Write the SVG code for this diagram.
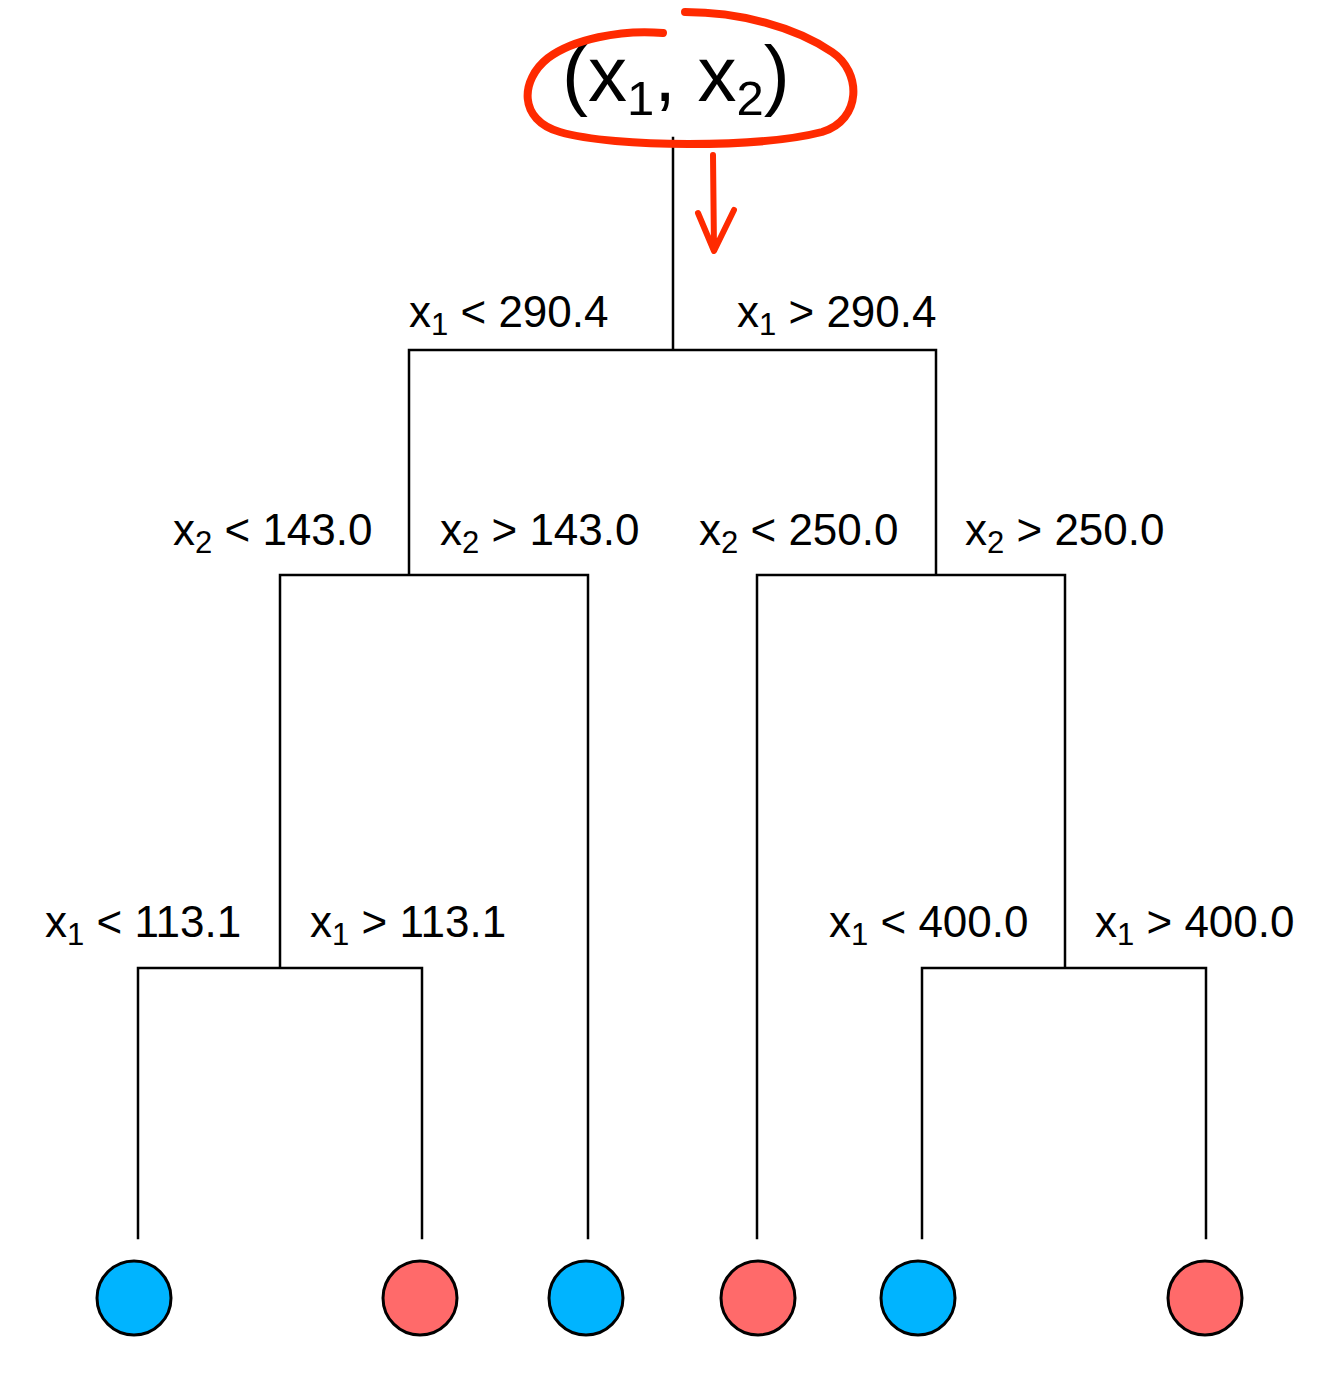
<svg xmlns="http://www.w3.org/2000/svg" width="1343" height="1381" viewBox="0 0 1343 1381">
<style>
.ln{stroke:#000;stroke-width:2.5;fill:none;stroke-linecap:square}
.lbl{font-family:"Liberation Sans",Arial,sans-serif;font-size:44px;fill:#000}
.sub{font-size:31px}
.blue{fill:#00b4ff;stroke:#000;stroke-width:3}
.red{fill:#ff6a6a;stroke:#000;stroke-width:3}
.mark{stroke:#ff2a00;fill:none;stroke-linecap:round;stroke-linejoin:round}
</style>
<rect width="1343" height="1381" fill="#fff"/>
<g id="connectors">
<path class="ln" d="M673,138 V350 M409,350 H936 M409,350 V575 M936,350 V575 M280,575 H409 M409,575 H588 M757,575 H936 M936,575 H1065 M280,575 V968 M588,575 V1238 M757,575 V1238 M1065,575 V968 M138,968 H422 M922,968 H1206 M138,968 V1238 M422,968 V1238 M922,968 V1238 M1206,968 V1238"/>
</g>
<g id="root">
<text class="lbl" x="562" y="101" style="font-size:78px">(x<tspan dy="14" style="font-size:49px">1</tspan><tspan dy="-14">, x</tspan><tspan dy="14" style="font-size:49px">2</tspan><tspan dy="-14">)</tspan></text>
</g>
<g id="annotation">
<path class="mark" stroke-width="8" d="M663,33 C620,29 572,40 548,58 C520,80 518,120 560,132 C615,148 760,148 822,132 C862,120 862,72 832,52 C795,27 740,12 685,12"/>
<path class="mark" stroke-width="6" d="M713,155 L714,250 M698,213 L714,251 L734,210"/>
</g>
<g id="labels">
<text class="lbl" x="409" y="327">x<tspan class="sub" dy="8">1</tspan><tspan dy="-8"> &lt; 290.4</tspan></text>
<text class="lbl" x="737" y="327">x<tspan class="sub" dy="8">1</tspan><tspan dy="-8"> &gt; 290.4</tspan></text>
<text class="lbl" x="173" y="545">x<tspan class="sub" dy="8">2</tspan><tspan dy="-8"> &lt; 143.0</tspan></text>
<text class="lbl" x="440" y="545">x<tspan class="sub" dy="8">2</tspan><tspan dy="-8"> &gt; 143.0</tspan></text>
<text class="lbl" x="699" y="545">x<tspan class="sub" dy="8">2</tspan><tspan dy="-8"> &lt; 250.0</tspan></text>
<text class="lbl" x="965" y="545">x<tspan class="sub" dy="8">2</tspan><tspan dy="-8"> &gt; 250.0</tspan></text>
<text class="lbl" x="45" y="937">x<tspan class="sub" dy="8">1</tspan><tspan dy="-8"> &lt; 113.1</tspan></text>
<text class="lbl" x="310" y="937">x<tspan class="sub" dy="8">1</tspan><tspan dy="-8"> &gt; 113.1</tspan></text>
<text class="lbl" x="829" y="937">x<tspan class="sub" dy="8">1</tspan><tspan dy="-8"> &lt; 400.0</tspan></text>
<text class="lbl" x="1095" y="937">x<tspan class="sub" dy="8">1</tspan><tspan dy="-8"> &gt; 400.0</tspan></text>
</g>
<g id="leaf1"><circle class="blue" cx="134" cy="1298" r="37"/></g>
<g id="leaf2"><circle class="red" cx="420" cy="1298" r="37"/></g>
<g id="leaf3"><circle class="blue" cx="586" cy="1298" r="37"/></g>
<g id="leaf4"><circle class="red" cx="758" cy="1298" r="37"/></g>
<g id="leaf5"><circle class="blue" cx="918" cy="1298" r="37"/></g>
<g id="leaf6"><circle class="red" cx="1205" cy="1298" r="37"/></g>
</svg>
